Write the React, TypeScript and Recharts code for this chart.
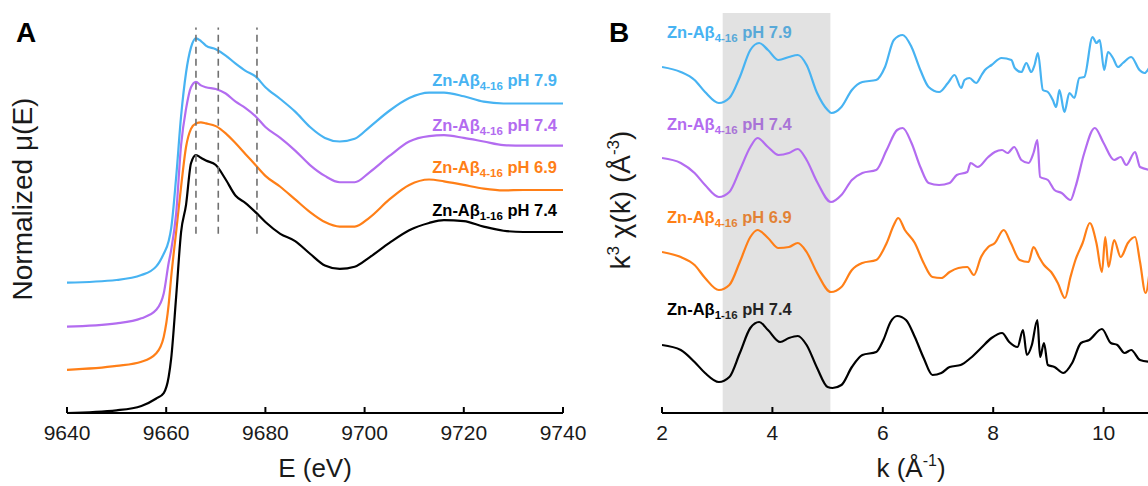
import { LineChart, Line, XAxis, YAxis, ReferenceLine, ReferenceArea } from 'recharts';

// ---- panel A: Zn K-edge XANES (normalized, stacked with offsets) ----
const energy = [
  9640, 9650, 9655, 9658, 9659.5, 9660.5, 9661, 9662, 9663, 9664, 9665, 9666, 9667, 9668, 9670, 9672, 9674,
  9676, 9678, 9680, 9683, 9686, 9689, 9692, 9695, 9698, 9701, 9705, 9709, 9713, 9716, 9720, 9724, 9728, 9732,
  9736, 9740,
];
const muAb416ph79 = [
  0.72, 0.735, 0.762, 0.81, 0.88, 0.95, 1.02, 1.3, 1.64, 1.88, 2.02, 2.07, 2.055, 2.03, 2.01, 1.975, 1.93,
  1.89, 1.86, 1.8, 1.735, 1.665, 1.58, 1.52, 1.5, 1.515, 1.58, 1.67, 1.74, 1.77, 1.77, 1.75, 1.72, 1.71, 1.71,
  1.71, 1.71,
];
const muAb416ph74 = [
  0.477, 0.495, 0.523, 0.57, 0.66, 0.83, 0.9, 1.1, 1.48, 1.68, 1.8, 1.83, 1.81, 1.8, 1.79, 1.765, 1.72,
  1.685, 1.64, 1.58, 1.52, 1.45, 1.37, 1.31, 1.275, 1.275, 1.33, 1.42, 1.5, 1.53, 1.535, 1.52, 1.5, 1.48, 1.477,
  1.477, 1.477,
];
const muAb416ph69 = [
  0.238, 0.26, 0.283, 0.33, 0.42, 0.6, 0.75, 1.0, 1.25, 1.47, 1.57, 1.6, 1.606, 1.6, 1.585, 1.545, 1.49,
  1.43, 1.37, 1.31, 1.25, 1.18, 1.11, 1.055, 1.03, 1.03, 1.08, 1.18, 1.26, 1.29, 1.28, 1.26, 1.24, 1.23, 1.232,
  1.232, 1.232,
];
const muAb116ph74 = [
  0, 0.015, 0.039, 0.08, 0.11, 0.2, 0.3, 0.64, 1.0, 1.15, 1.38, 1.425, 1.41, 1.395, 1.37, 1.29, 1.2,
  1.16, 1.11, 1.055, 0.99, 0.95, 0.88, 0.815, 0.796, 0.808, 0.86, 0.94, 1.01, 1.05, 1.066, 1.06, 1.03, 1.007, 1.0,
  1.0, 1.0,
];
const dashedEnergies = [9666, 9670.5, 9678.3];
const dashedRange = [0.99, 2.13];
const energyTicks = [9640, 9660, 9680, 9700, 9720, 9740];

// ---- panel B: k^3-weighted EXAFS (stacked) ----
const kAb416ph79 = [
  2.0, 2.34, 2.59, 2.78, 3.03, 3.22, 3.41, 3.6, 3.76, 3.92, 4.11, 4.3, 4.46, 4.62, 4.81, 5.0, 5.07, 5.25, 5.44,
  5.63, 5.88, 6.04, 6.2, 6.36, 6.52, 6.68, 6.83, 7.02, 7.18, 7.3, 7.42, 7.48, 7.57, 7.69, 7.79, 7.85, 7.97, 8.15,
  8.33, 8.39, 8.51, 8.6, 8.69, 8.75, 8.81, 8.9, 8.99, 9.08, 9.14, 9.2, 9.29, 9.38, 9.47, 9.56, 9.65, 9.8, 9.87,
  9.93, 10.01, 10.08, 10.17, 10.26, 10.35, 10.5, 10.65, 10.74, 10.85,
];
const chiAb416ph79 = [
  34.6, 34.1, 33.3, 32.1, 31.0, 31.5, 33.6, 36.3, 37.0, 36.3, 35.3, 35.6, 35.8, 34.8, 32.0, 30.3, 30.0, 30.6, 32.3,
  33.1, 33.3, 34.6, 37.3, 37.8, 36.6, 34.3, 32.6, 32.1, 33.0, 33.8, 32.5, 33.3, 33.5, 33.0, 33.8, 34.3, 34.8, 35.5,
  35.3, 34.5, 34.1, 35.0, 34.1, 34.8, 36.0, 32.3, 32.1, 31.3, 30.6, 32.3, 30.1, 32.0, 31.5, 33.5, 33.6, 37.6, 37.0,
  37.3, 34.3, 36.1, 35.5, 34.6, 35.0, 35.6, 34.3, 34.0, 34.8,
];
const kAb416ph74 = [
  2.0, 2.34, 2.59, 2.78, 3.03, 3.22, 3.41, 3.6, 3.73, 3.92, 4.11, 4.3, 4.46, 4.62, 4.81, 5.06, 5.25, 5.44, 5.63,
  5.88, 6.07, 6.26, 6.36, 6.52, 6.68, 6.83, 7.02, 7.21, 7.34, 7.53, 7.59, 7.72, 7.91, 8.03, 8.16, 8.26, 8.38, 8.51,
  8.64, 8.73, 8.8, 8.85, 8.99, 9.11, 9.24, 9.4, 9.49, 9.65, 9.84, 10.0, 10.19, 10.31, 10.41, 10.57, 10.66, 10.85,
];
const chiAb416ph74 = [
  25.5, 25.0, 24.0, 22.8, 21.6, 22.1, 24.3, 26.6, 27.5, 26.6, 25.8, 26.0, 26.4, 25.3, 23.1, 21.1, 21.8, 23.3, 24.0,
  24.3, 26.3, 28.3, 28.5, 27.0, 24.6, 23.0, 22.8, 23.0, 23.8, 24.1, 25.0, 24.6, 25.6, 26.1, 26.3, 26.0, 26.6, 25.3,
  25.0, 26.0, 27.3, 23.6, 23.3, 22.3, 22.0, 21.3, 22.6, 26.0, 28.5, 27.0, 25.3, 25.6, 24.8, 26.1, 24.6, 24.3,
];
const kAb416ph69 = [
  2.0, 2.34, 2.59, 2.78, 3.03, 3.22, 3.41, 3.6, 3.73, 3.92, 4.11, 4.3, 4.46, 4.62, 4.81, 5.06, 5.25, 5.44, 5.63,
  5.88, 6.07, 6.2, 6.28, 6.4, 6.58, 6.74, 6.9, 7.06, 7.21, 7.37, 7.53, 7.65, 7.78, 7.91, 8.03, 8.19, 8.32, 8.48,
  8.64, 8.73, 8.83, 8.92, 9.05, 9.17, 9.3, 9.4, 9.49, 9.62, 9.75, 9.87, 9.97, 10.03, 10.09, 10.19, 10.31, 10.44,
  10.57, 10.66, 10.76, 10.85,
];
const chiAb416ph69 = [
  16.1, 15.6, 14.8, 13.5, 12.3, 12.8, 15.1, 17.6, 18.3, 17.5, 16.5, 16.6, 17.0, 16.1, 14.0, 12.1, 12.6, 14.3, 15.0,
  15.3, 17.0, 18.8, 19.5, 18.3, 17.0, 15.0, 13.6, 13.5, 14.1, 14.5, 14.6, 13.8, 15.6, 16.6, 17.0, 18.3, 17.0, 15.3,
  15.1, 16.6, 15.6, 14.8, 14.1, 13.0, 11.5, 13.6, 15.3, 17.0, 19.0, 17.0, 14.1, 17.6, 14.6, 17.3, 15.6, 17.0,
  17.6, 15.1, 12.0, 15.0,
];
const kAb116ph74 = [
  2.0, 2.34, 2.59, 2.78, 3.03, 3.22, 3.41, 3.6, 3.76, 3.92, 4.14, 4.3, 4.46, 4.62, 4.81, 5.0, 5.09, 5.25, 5.44,
  5.63, 5.88, 6.01, 6.14, 6.26, 6.42, 6.58, 6.74, 6.9, 7.06, 7.21, 7.41, 7.59, 7.78, 7.97, 8.16, 8.29, 8.44, 8.54,
  8.61, 8.7, 8.8, 8.85, 8.92, 8.99, 9.11, 9.27, 9.43, 9.59, 9.74, 9.97, 10.13, 10.25, 10.38, 10.5, 10.66, 10.85,
];
const chiAb116ph74 = [
  6.8, 6.3, 5.1, 4.0, 3.1, 3.6, 6.0, 8.5, 9.1, 8.3, 7.1, 7.5, 7.7, 6.8, 4.5, 2.6, 2.5, 2.8, 4.6,
  5.8, 6.1, 7.3, 9.1, 9.7, 9.3, 7.6, 5.5, 3.8, 4.0, 4.6, 4.8, 5.5, 6.5, 7.5, 8.0, 7.1, 6.6, 8.3,
  5.8, 6.8, 9.3, 5.6, 7.0, 4.8, 4.6, 4.0, 5.0, 7.0, 7.3, 8.4, 7.0, 6.8, 6.0, 6.3, 5.3, 5.1,
];
const shadedK = [3.1, 5.05];
const kTicks = [2, 4, 6, 8, 10];

// series legend text
const seriesSub = ['4-16', '4-16', '4-16', '1-16'];
const seriesPh = ['7.9', '7.4', '6.9', '7.4'];
const seriesColor = ['#47b3f2', '#b36cf0', '#ff7f17', '#000000'];

const FONT = '"Liberation Sans", Arial, Helvetica, sans-serif';

const xanesData = energy.map((e, i) => ({
  e,
  s0: muAb416ph79[i],
  s1: muAb416ph74[i],
  s2: muAb416ph69[i],
  s3: muAb116ph74[i],
}));

const zip = (k: number[], v: number[]) => k.map((x, i) => ({ k: x, v: v[i] }));
const exafsSeries = [
  zip(kAb416ph79, chiAb416ph79),
  zip(kAb416ph74, chiAb416ph74),
  zip(kAb416ph69, chiAb416ph69),
  zip(kAb116ph74, chiAb116ph74),
];

const tickStyle = { fontSize: 21, fill: '#1a1a1a', fontFamily: FONT };
const axisStroke = { stroke: '#000', strokeWidth: 2 };

function SeriesLabel({ i, x, y, anchor }: { i: number; x: number; y: number; anchor: 'start' | 'end' }) {
  return (
    <text x={x} y={y} fill={seriesColor[i]} fontSize={16.5} fontWeight={700} fontFamily={FONT} textAnchor={anchor}>
      Zn-Aβ
      <tspan dy={4} fontSize={11.5}>{seriesSub[i]}</tspan>
      <tspan dy={-4}>{` pH ${seriesPh[i]}`}</tspan>
    </text>
  );
}

const labelYA = [86, 131, 173, 216];
const labelYB = [38, 130, 223, 315];

function PanelA() {
  return (
    <LineChart width={600} height={486} data={xanesData} margin={{ top: 15, right: 37, bottom: 43, left: 67 }}>
      <XAxis
        dataKey="e"
        type="number"
        domain={[9640, 9740]}
        ticks={energyTicks}
        interval={0}
        height={30}
        tickSize={-6}
        tickMargin={18}
        tick={tickStyle}
        tickLine={axisStroke}
        axisLine={axisStroke}
      />
      <XAxis
        xAxisId="top"
        orientation="top"
        dataKey="e"
        type="number"
        domain={[9640, 9740]}
        ticks={energyTicks}
        interval={0}
        height={0}
        tickSize={-6}
        tick={false}
        tickLine={axisStroke}
        axisLine={axisStroke}
      />
      <YAxis domain={[0, 2.199]} width={0} tick={false} tickLine={false} axisLine={axisStroke} />
      <YAxis yAxisId="r" orientation="right" domain={[0, 2.199]} width={0} tick={false} tickLine={false} axisLine={axisStroke} />
      {['s3', 's2', 's1', 's0'].map((key) => (
        <Line
          key={key}
          dataKey={key}
          type="monotone"
          stroke={seriesColor[Number(key[1])]}
          strokeWidth={2.2}
          dot={false}
          isAnimationActive={false}
        />
      ))}
      {dashedEnergies.map((e) => (
        <ReferenceLine
          key={e}
          segment={[{ x: e, y: dashedRange[0] }, { x: e, y: dashedRange[1] }]}
          stroke="#707070"
          strokeWidth={1.6}
          strokeDasharray="7 5"
        />
      ))}
      {[0, 1, 2, 3].map((i) => (
        <SeriesLabel key={i} i={i} x={557} y={labelYA[i]} anchor="end" />
      ))}
      <text x={16} y={42} fontSize={28} fontWeight={700} fontFamily={FONT}>A</text>
      <text x={315} y={477} fontSize={26} textAnchor="middle" fontFamily={FONT} fill="#1a1a1a">E (eV)</text>
      <text
        x={32}
        y={199}
        fontSize={28}
        textAnchor="middle"
        fontFamily={FONT}
        fill="#1a1a1a"
        transform="rotate(-90 32 199)"
      >
        Normalized μ(E)
      </text>
    </LineChart>
  );
}

function PanelB() {
  return (
    <LineChart width={640} height={486} margin={{ top: 13, right: 16, bottom: 43, left: 72 }}>
      <XAxis
        dataKey="k"
        type="number"
        domain={[2, 12]}
        ticks={kTicks}
        interval={0}
        height={30}
        tickSize={-6}
        tickMargin={18}
        tick={tickStyle}
        tickLine={axisStroke}
        axisLine={axisStroke}
        allowDataOverflow
      />
      <XAxis
        xAxisId="top"
        orientation="top"
        dataKey="k"
        type="number"
        domain={[2, 12]}
        ticks={kTicks}
        interval={0}
        height={0}
        tickSize={-6}
        tick={false}
        tickLine={axisStroke}
        axisLine={axisStroke}
      />
      <YAxis domain={[0, 40]} width={0} tick={false} tickLine={false} axisLine={axisStroke} />
      {exafsSeries.map((pts, i) => (
        <Line
          key={i}
          data={pts}
          dataKey="v"
          type="monotone"
          stroke={seriesColor[i]}
          strokeWidth={2.2}
          dot={false}
          isAnimationActive={false}
        />
      ))}
      <ReferenceArea x1={shadedK[0]} x2={shadedK[1]} y1={0} y2={40} fill="#8a8a8a" fillOpacity={0.25} stroke="none" />
      {[0, 1, 2, 3].map((i) => (
        <SeriesLabel key={i} i={i} x={77} y={labelYB[i]} anchor="start" />
      ))}
      <text x={19} y={42} fontSize={28} fontWeight={700} fontFamily={FONT}>B</text>
      <text x={321} y={477} fontSize={26} textAnchor="middle" fontFamily={FONT} fill="#1a1a1a">
        k (Å<tspan dy={-11} fontSize={16}>-1</tspan><tspan dy={11}>)</tspan>
      </text>
      <text
        x={40}
        y={200}
        fontSize={28}
        textAnchor="middle"
        fontFamily={FONT}
        fill="#1a1a1a"
        transform="rotate(-90 40 200)"
      >
        k<tspan dy={-11} fontSize={17}>3</tspan>
        <tspan dy={11}> χ(k) (Å</tspan>
        <tspan dy={-11} fontSize={17}>-3</tspan>
        <tspan dy={11}>)</tspan>
      </text>
    </LineChart>
  );
}

export default function App() {
  return (
    <div style={{ position: 'relative', width: 1148, height: 486, overflow: 'hidden', background: '#fff' }}>
      <style>{'body{margin:0}'}</style>
      <div style={{ position: 'absolute', left: 0, top: 0 }}>
        <PanelA />
      </div>
      <div style={{ position: 'absolute', left: 590, top: 0 }}>
        <PanelB />
      </div>
    </div>
  );
}
